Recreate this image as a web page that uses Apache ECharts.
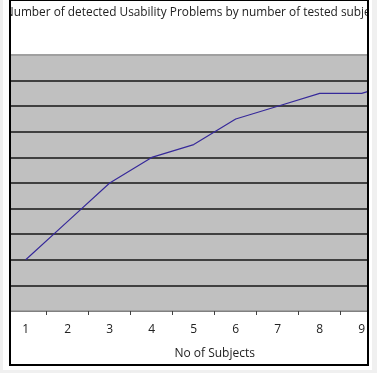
<!DOCTYPE html>
<html>
<head>
<meta charset="utf-8">
<script src="https://cdn.jsdelivr.net/npm/echarts@6/dist/echarts.min.js"></script>
<style>
html,body{margin:0;padding:0;width:377px;height:373px;overflow:hidden;background:#f0f0f0;}
#card{position:absolute;left:3px;top:0;width:369px;height:370px;background:#fff;}
#frame{position:absolute;left:9px;top:0;width:356px;height:363px;border-style:solid;border-color:#000;border-width:1px 2px 2px 2px;overflow:hidden;background:#fff;}
#chart{position:absolute;left:-11px;top:-1px;width:440px;height:373px;}
</style>
</head>
<body>
<div id="card"></div>
<div id="frame"><div id="chart"></div></div>
<script>
const titleText = 'Number of detected Usability Problems by number of tested subjects';
const xAxisName = 'No of Subjects';
const categories = ['1','2','3','4','5','6','7','8','9','10'];
const problems = [2, 3.5, 5, 6, 6.5, 7.5, 8, 8.5, 8.5, 9];
const yMin = 0, yMax = 10, yStep = 1;

const chart = echarts.init(document.getElementById('chart'), null, {renderer:'canvas'});
const splitColors = [];
for (let v = yMin; v <= yMax; v += yStep) splitColors.push((v === yMin || v === yMax) ? '#a0a0a0' : '#404040');

chart.setOption({
  animation: false,
  title: {
    text: titleText,
    left: 190.5,
    textAlign: 'center',
    top: 2,
    textStyle: {fontFamily: 'Open Sans', fontSize: 11.85, fontWeight: 'normal', color: '#222'}
  },
  grid: {left: 4.7, top: 55, width: 420, height: 256, show: true, backgroundColor: '#c0c0c0', borderWidth: 0},
  xAxis: {
    type: 'category',
    data: categories,
    boundaryGap: true,
    name: xAxisName,
    nameLocation: 'middle',
    nameGap: 37,
    nameTextStyle: {fontFamily: 'Open Sans', fontSize: 12, color: '#222'},
    axisLine: {show: true, lineStyle: {color: '#808080', width: 1}},
    axisTick: {show: true, length: 4, lineStyle: {color: '#404040'}},
    axisLabel: {margin: 13, fontFamily: 'Open Sans', fontSize: 12, color: '#222'}
  },
  yAxis: {
    type: 'value',
    min: yMin, max: yMax, interval: yStep,
    axisLabel: {show: false},
    axisLine: {show: false},
    axisTick: {show: false},
    splitLine: {show: true, lineStyle: {color: splitColors, width: 2}}
  },
  series: [{
    type: 'line',
    data: problems,
    showSymbol: false,
    symbol: 'none',
    lineStyle: {color: '#36299a', width: 1.2}
  }]
});
</script>
</body>
</html>
